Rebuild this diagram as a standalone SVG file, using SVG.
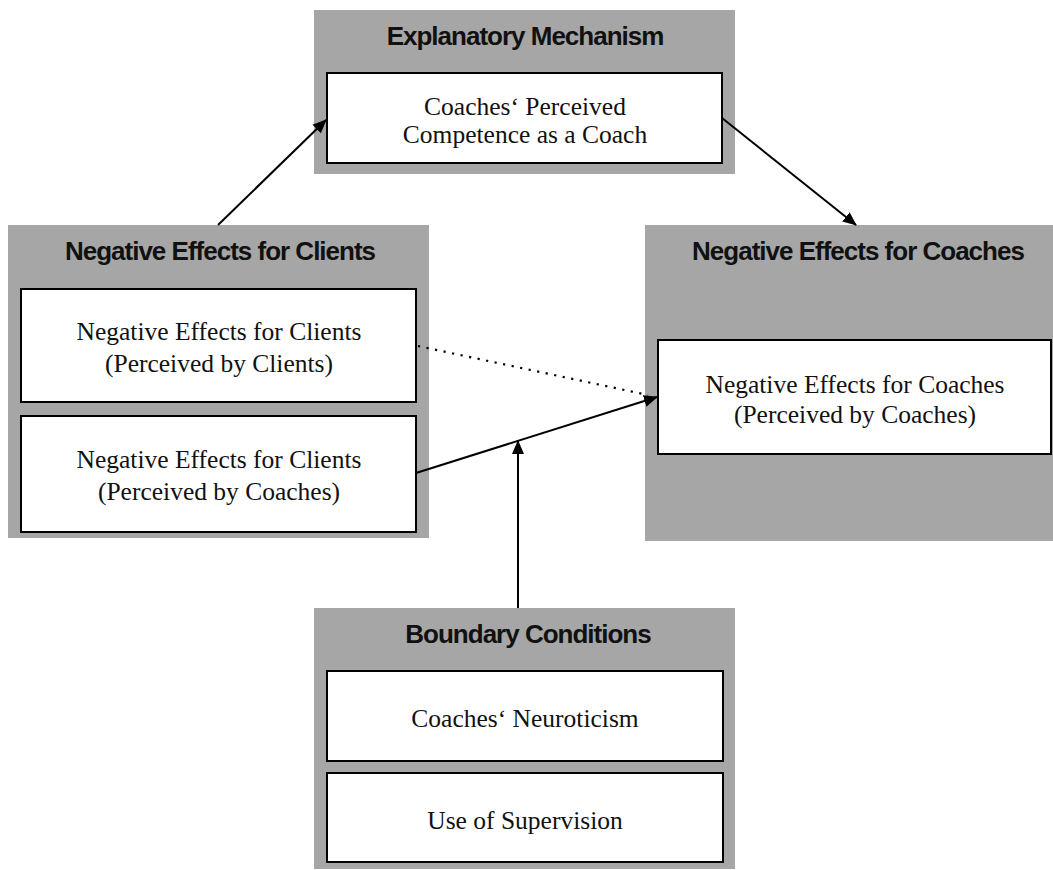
<svg xmlns="http://www.w3.org/2000/svg" width="1053" height="870" viewBox="0 0 1053 870">
  <style>
    .panel { fill: #a6a6a6; }
    .box { fill: #ffffff; stroke: #000000; stroke-width: 2; }
    .head { font-family: "Liberation Sans", Arial, sans-serif; font-weight: bold; font-size: 26px; letter-spacing: -1px; fill: #111111; text-anchor: middle; }
    .label { font-family: "Liberation Serif", "Times New Roman", serif; font-size: 25.5px; fill: #111111; text-anchor: middle; }
    .link { stroke: #000000; stroke-width: 2; fill: none; }
    .dotted { stroke: #000000; stroke-width: 2.2; fill: none; stroke-dasharray: 2.2 6.5; }
  </style>
  <defs>
    <marker id="arrow" markerUnits="userSpaceOnUse" markerWidth="14" markerHeight="14" viewBox="0 0 14 14" refX="13" refY="7" orient="auto">
      <path d="M0,1 L14,7 L0,13 Z" fill="#000000"/>
    </marker>
  </defs>

  <rect width="1053" height="870" fill="#ffffff"/>

  <!-- Mediator -->
  <g id="explanatory-mechanism">
    <rect class="panel" x="314" y="10" width="421" height="164"/>
    <text class="head" x="525" y="45">Explanatory Mechanism</text>
    <rect class="box" x="327" y="73" width="395" height="90"/>
    <text class="label" x="525" y="115">Coaches‘ Perceived</text>
    <text class="label" x="525" y="143">Competence as a Coach</text>
  </g>

  <!-- Predictors -->
  <g id="negative-effects-clients">
    <rect class="panel" x="8" y="225" width="421" height="313"/>
    <text class="head" x="220" y="260">Negative Effects for Clients</text>
    <rect class="box" x="21" y="289" width="395" height="113"/>
    <text class="label" x="219" y="340">Negative Effects for Clients</text>
    <text class="label" x="219" y="372">(Perceived by Clients)</text>
    <rect class="box" x="21" y="416" width="395" height="116"/>
    <text class="label" x="219" y="468">Negative Effects for Clients</text>
    <text class="label" x="219" y="500">(Perceived by Coaches)</text>
  </g>

  <!-- Outcome -->
  <g id="negative-effects-coaches">
    <rect class="panel" x="645" y="225" width="408" height="316"/>
    <text class="head" x="858" y="260">Negative Effects for Coaches</text>
    <rect class="box" x="658" y="340" width="393" height="114"/>
    <text class="label" x="855" y="393">Negative Effects for Coaches</text>
    <text class="label" x="855" y="423">(Perceived by Coaches)</text>
  </g>

  <!-- Moderators -->
  <g id="boundary-conditions">
    <rect class="panel" x="314" y="608" width="421" height="261"/>
    <text class="head" x="528" y="643">Boundary Conditions</text>
    <rect class="box" x="327" y="671" width="396" height="90"/>
    <text class="label" x="525" y="727">Coaches‘ Neuroticism</text>
    <rect class="box" x="327" y="773" width="396" height="89"/>
    <text class="label" x="525" y="829">Use of Supervision</text>
  </g>

  <g id="connectors">
    <line class="link" x1="218" y1="225" x2="326" y2="120" marker-end="url(#arrow)"/>
    <line class="link" x1="722" y1="118" x2="856" y2="225" marker-end="url(#arrow)"/>
    <line class="dotted" x1="418" y1="346" x2="648" y2="395"/>
    <line class="link" x1="416" y1="473" x2="657" y2="397" marker-end="url(#arrow)"/>
    <line class="link" x1="518" y1="608" x2="518" y2="441" marker-end="url(#arrow)"/>
  </g>
</svg>
